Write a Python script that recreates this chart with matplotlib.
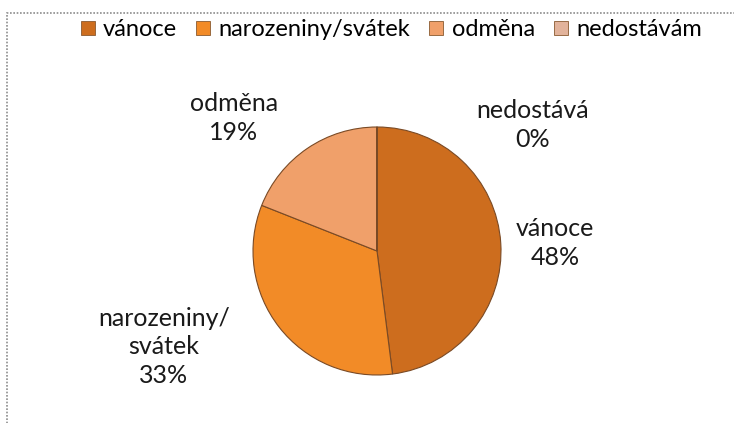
import matplotlib
matplotlib.use("Agg")
import matplotlib.pyplot as plt
from matplotlib.patches import Rectangle
from matplotlib.lines import Line2D

plt.rcParams['font.family'] = ['Lato', 'DejaVu Sans']

categories = ['vánoce', 'narozeniny/svátek', 'odměna', 'nedostávám']
values = [48, 33, 19, 0.001]
pct_labels = ['48%', '33%', '19%', '0%']
slice_labels = ['vánoce', 'narozeniny/\nsvátek', 'odměna', 'nedostává']
colors = ['#CD6D1E', '#F28B27', '#F0A06A', '#E2B39B']

fig = plt.figure(figsize=(7.34, 4.23), dpi=100)

# chart frame (dotted grey)
fig.patches.append(Rectangle((7 / 734, -0.05), 1.0, 1 - 13 / 423 + 0.05,
                             transform=fig.transFigure, fill=False,
                             edgecolor='#8c8c8c', linestyle=(0, (1, 1)),
                             linewidth=1.2))

cx, cy, r = 377, 251, 124
ax = fig.add_axes([(cx - r) / 734, (423 - cy - r) / 423, 2 * r / 734, 2 * r / 423])
wedges, _ = ax.pie(values, colors=colors, startangle=90, counterclock=False,
                   wedgeprops=dict(edgecolor='#7a4a25', linewidth=0.8))
ax.set_xlim(-1, 1)
ax.set_ylim(-1, 1)
ax.set_aspect('equal')

# data labels (pixel positions of text centres)
label_pos = [(555, 243), (164, 347), (234, 118), (533, 125)]
for (px, py), name, pct in zip(label_pos, slice_labels, pct_labels):
    fig.text(px / 734, 1 - py / 423, name + '\n' + pct, ha='center', va='center',
             fontsize=18, color='#1a1a1a', linespacing=1.3)

# legend
handles = [Line2D([], [], marker='s', linestyle='none', markersize=10,
                  markerfacecolor=c, markeredgecolor='#8a5a30', markeredgewidth=0.6)
           for c in colors]
fig.legend(handles, categories, loc='center', bbox_to_anchor=(390 / 734, 1 - 30 / 423),
           ncol=4, frameon=False, fontsize=17, handletextpad=0.25, columnspacing=0.7,
           handlelength=0.8, borderpad=0)

fig.savefig('out.png', dpi=100)
